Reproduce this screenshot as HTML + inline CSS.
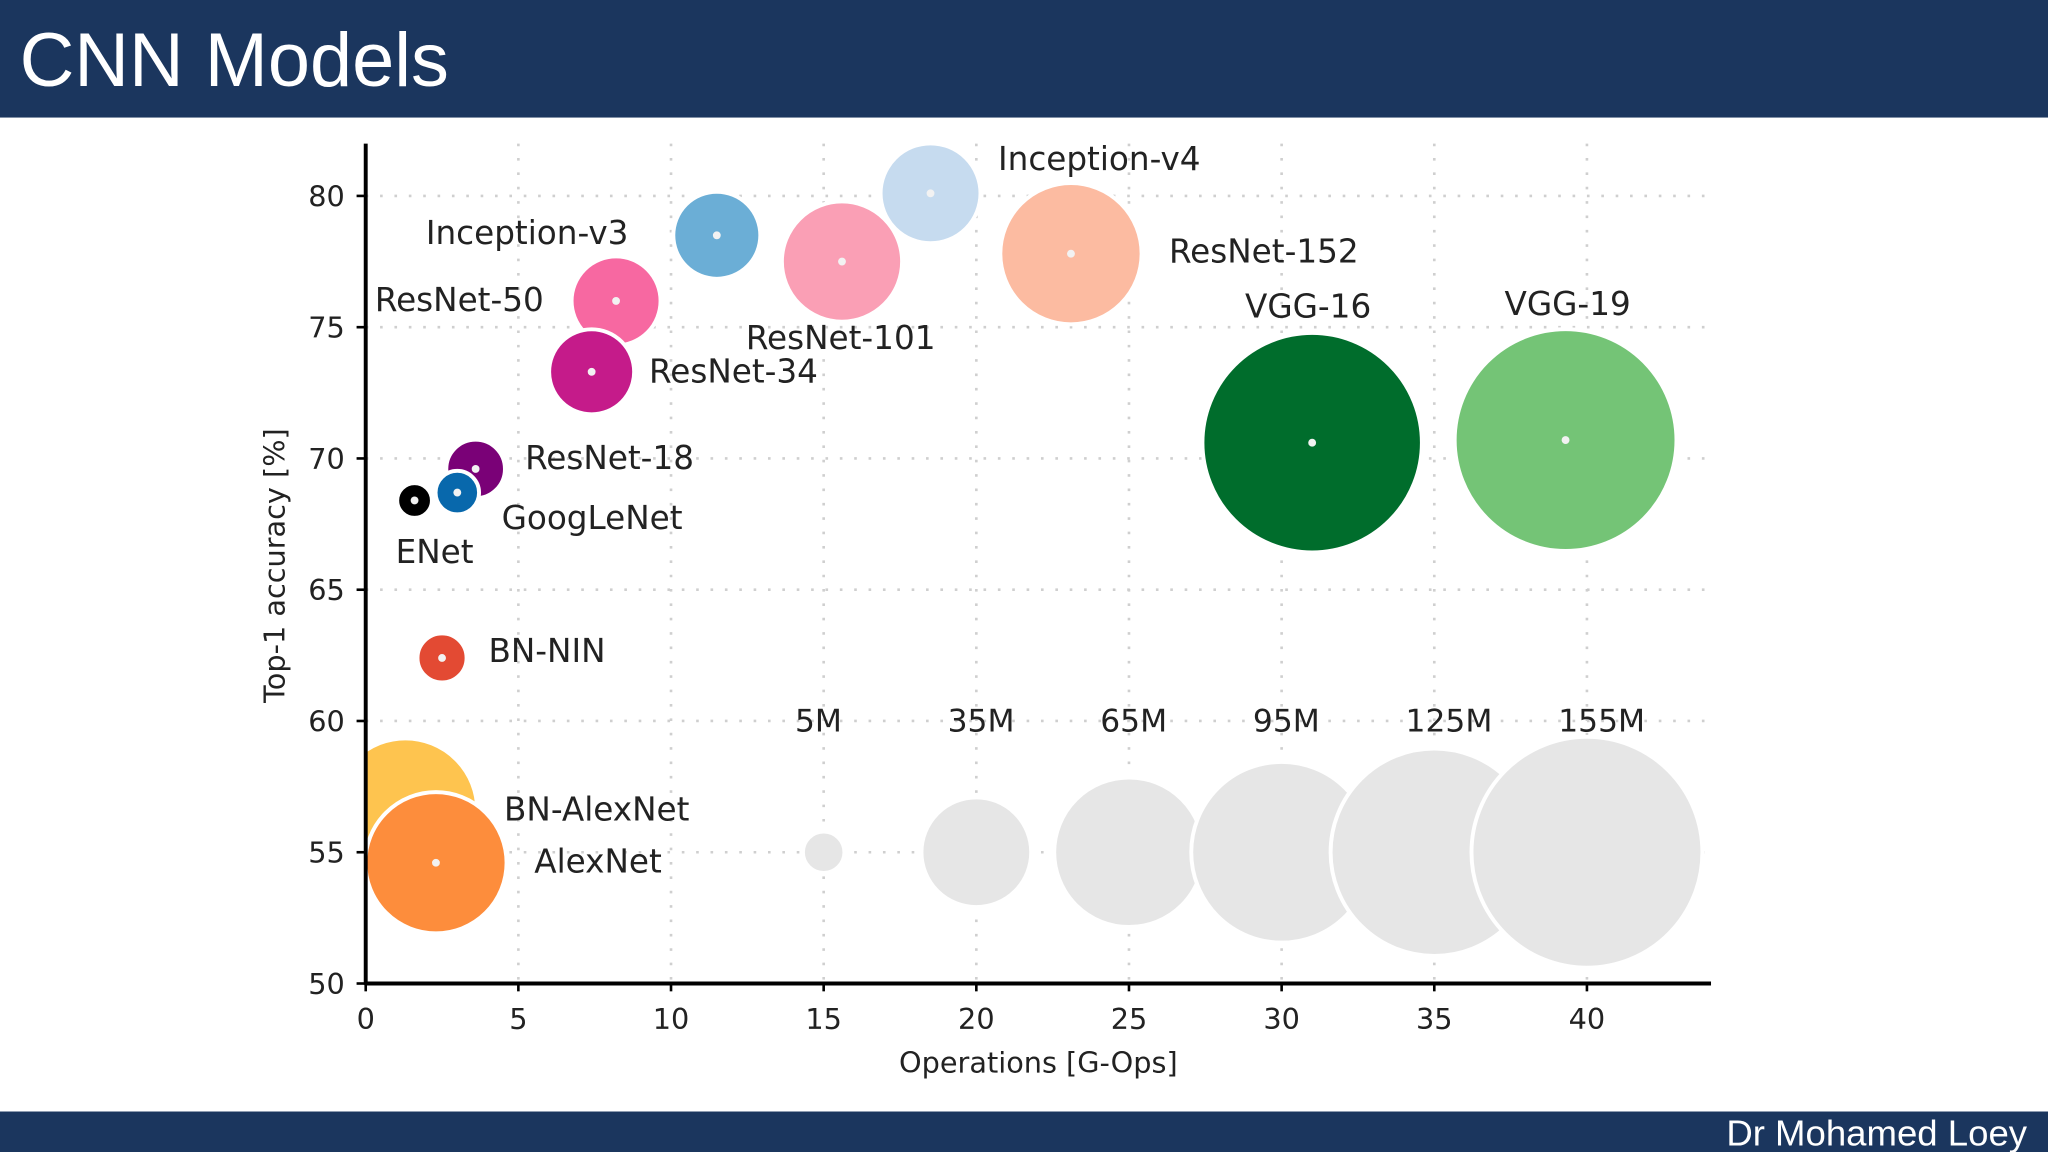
<!DOCTYPE html>
<html><head><meta charset="utf-8"><style>
html,body{margin:0;padding:0;background:#fff;}
svg{display:block;}
text{font-family:"DejaVu Sans","Liberation Sans",sans-serif;}
</style></head><body>
<svg id="chart" width="2048" height="1152" viewBox="0 0 1568 882" xmlns="http://www.w3.org/2000/svg">
<rect x="0" y="0" width="1568" height="90" fill="#1b365e"/>
<text x="15" y="66" font-size="58" fill="#fff" style="font-family:'Liberation Sans',sans-serif">CNN Models</text>
<rect x="0" y="851" width="1568" height="31" fill="#1b365e"/>
<text x="1552" y="877" font-size="28" fill="#fff" text-anchor="end" style="font-family:'Liberation Sans',sans-serif">Dr Mohamed Loey</text>
<defs><clipPath id="plotclip"><rect x="281" y="100" width="1040" height="652"/></clipPath></defs>
<g id="grid"></g><g id="marks" clip-path="url(#plotclip)"></g><g id="axes"></g><g id="labels"></g>
</svg>
<script>
const names=["Inception-v4","Inception-v3","ResNet-152","ResNet-101","ResNet-50","ResNet-34","ResNet-18","GoogLeNet","ENet","BN-NIN","BN-AlexNet","AlexNet","VGG-16","VGG-19"];
const ops=[18.5,11.5,23.1,15.6,8.2,7.4,3.6,3.0,1.6,2.5,1.3,2.3,31.0,39.3];
const acc=[80.1,78.5,77.8,77.5,76.0,73.3,69.6,68.7,68.4,62.4,56.6,54.6,70.6,70.7];
const params=[29,22,58,42,23,21,10,5.5,3.5,7,60,58,140,143];
const colors=["#c6dbef","#6baed6","#fcbba1","#fa9fb5","#f768a1","#c51b8a","#7a0177","#0868ac","#000000","#e34a33","#fec44f","#fd8d3c","#006d2c","#74c476"];
const labelDx=[2.21,-9.53,3.21,-3.15,-7.9,1.88,1.62,1.45,-0.62,1.52,3.23,3.22,-2.2,-2.0];
const labelDy=[1.29,0.06,0.06,-2.93,0.02,0,0.4,-0.99,-1.99,0.24,0.01,0.02,5.17,5.17];
const legendVals=[5,35,65,95,125,155];
const legendX=[15,20,25,30,35,40];
const legendLabels=["5M","35M","65M","95M","125M","155M"];
const xTicks=[0,5,10,15,20,25,30,35,40];
const yTicks=[50,55,60,65,70,75,80];
const NS="http://www.w3.org/2000/svg";
const X=v=>280+v*23.375, Y=v=>753-(v-50)*20.1, R=p=>7.1*Math.sqrt(p);
function mk(t,a,par){const e=document.createElementNS(NS,t);for(const k in a)e.setAttribute(k,a[k]);par.appendChild(e);return e;}
const grid=document.getElementById('grid'),marks=document.getElementById('marks'),axes=document.getElementById('axes'),labels=document.getElementById('labels');
xTicks.forEach(v=>{if(v>0){const l=mk('line',{x1:X(v),x2:X(v),y1:110,y2:753,stroke:'#cfcfcf','stroke-width':2,'stroke-dasharray':'2 9'},grid);

}
const t=mk('text',{x:X(v),y:788,'font-size':22,'text-anchor':'middle',fill:'#222'},axes);t.textContent=v;


mk('line',{x1:X(v),x2:X(v),y1:753,y2:759,stroke:'#000','stroke-width':2},axes);});
yTicks.forEach(v=>{if(v>50){const l=mk('line',{x1:280,x2:1308,y1:Y(v),y2:Y(v),stroke:'#cfcfcf','stroke-width':2,'stroke-dasharray':'2 9'},grid);

}
const t=mk('text',{x:264,y:Y(v)+8,'font-size':22,'text-anchor':'end',fill:'#222'},axes);t.textContent=v;


mk('line',{x1:273,x2:280,y1:Y(v),y2:Y(v),stroke:'#000','stroke-width':2},axes);});
const ya=mk('line',{x1:280,x2:280,y1:110,y2:754,stroke:'#000','stroke-width':3},axes);


const xa=mk('line',{x1:279,x2:1310,y1:753,y2:753,stroke:'#000','stroke-width':3},axes);


let t=mk('text',{x:795,y:821,'font-size':22,'text-anchor':'middle',fill:'#222'},axes);t.textContent='Operations [G-Ops]';


t=mk('text',{x:218,y:433,'font-size':22,'text-anchor':'middle',fill:'#222',transform:'rotate(-90 218 433)'},axes);t.textContent='Top-1 accuracy [%]';


legendVals.forEach((p,i)=>{const c=mk('circle',{cx:X(legendX[i]),cy:Y(55),r:R(p),fill:'#e6e6e6',stroke:'#fff','stroke-width':3},marks);


const l=mk('text',{x:X(legendX[i])-22,y:560,'font-size':24,fill:'#222'},labels);l.textContent=legendLabels[i];

});
names.forEach((n,i)=>{const c=mk('circle',{cx:X(ops[i]),cy:Y(acc[i]),r:R(params[i]),fill:colors[i],stroke:'#fff','stroke-width':3},marks);


const d=mk('circle',{cx:X(ops[i]),cy:Y(acc[i]),r:3,fill:'#f2f2f2'},marks);


const l=mk('text',{x:X(ops[i]+labelDx[i]),y:Y(acc[i]+labelDy[i])+8,'font-size':25,fill:'#222'},labels);l.textContent=n;

});
</script>
</body></html>
